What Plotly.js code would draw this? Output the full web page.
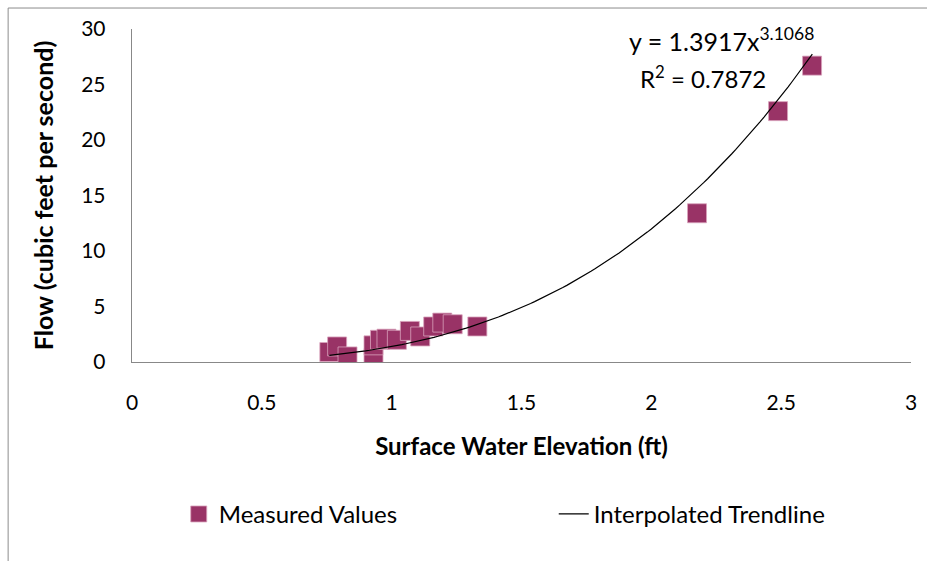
<!DOCTYPE html>
<html>
<head>
<meta charset="utf-8">
<script src="https://cdn.plot.ly/plotly-3.0.1.min.js"></script>
<style>
html,body{margin:0;padding:0;background:#fff;}
#chart{width:927px;height:561px;}
</style>
</head>
<body>
<div id="chart"></div>
<script>
var elevation = [0.76, 0.79, 0.83, 0.93, 0.93, 0.955, 0.98, 1.02, 1.07, 1.11, 1.16, 1.195, 1.235, 1.33, 2.176, 2.488, 2.619];
var flow      = [0.9,  1.4,  0.5,  0.35, 1.5,  2.0,   2.1,  2.0,  2.8,  2.3,  3.2,  3.55,  3.4,   3.2,  13.4,  22.6,  26.7];

// Trendline as displayed on the chart: y = 1.3917 x^3.1068
var trendCoef = 1.3917;
var trendExp = 3.1068;
var trendRange = [0.76, 2.62];
var rSquared = 0.7872;

var xTicks = [0, 0.5, 1, 1.5, 2, 2.5, 3];
var xTickText = ['0', '0.5', '1', '1.5', '2', '2.5', '3'];
var yTicks = [0, 5, 10, 15, 20, 25, 30];

var trendX = [], trendY = [];
var nSteps = 120;
for (var i = 0; i <= nSteps; i++) {
  var xv = trendRange[0] + (trendRange[1] - trendRange[0]) * i / nSteps;
  trendX.push(xv);
  trendY.push(trendCoef * Math.pow(xv, trendExp));
}

var FONT = 'Lato, "Open Sans", sans-serif';

var data = [
  {
    x: elevation, y: flow, type: 'scatter', mode: 'markers',
    name: 'Measured Values',
    marker: {symbol: 'square', size: 19, color: '#993366',
             line: {color: '#d9a3bd', width: 0.8}}
  },
  {
    x: trendX, y: trendY, type: 'scatter', mode: 'lines',
    name: 'Interpolated Trendline',
    line: {color: '#000000', width: 1.2}
  }
];

var layout = {
  width: 927, height: 561,
  margin: {l: 132, r: 16, t: 29, b: 199, autoexpand: false},
  paper_bgcolor: '#ffffff', plot_bgcolor: '#ffffff',
  font: {family: FONT, size: 21, color: '#000'},
  showlegend: true,
  xaxis: {
    range: [0, 3], tickvals: xTicks, ticktext: xTickText,
    showgrid: false, zeroline: false,
    showline: true, linecolor: '#888888', linewidth: 1.3,
    ticks: '', ticklabelstandoff: 21,
    tickfont: {family: FONT, size: 21, color: '#000'},
    title: {text: '<b>Surface Water Elevation (ft)</b>', font: {family: FONT, size: 24, color: '#000'}, standoff: 25}
  },
  yaxis: {
    range: [0, 30], tickvals: yTicks,
    showgrid: false, zeroline: false,
    showline: true, linecolor: '#888888', linewidth: 1.3,
    ticks: '', ticklabelstandoff: 21,
    tickfont: {family: FONT, size: 21, color: '#000'},
    title: {text: '<b>Flow (cubic feet per second)</b>', font: {family: FONT, size: 25, color: '#000'}, standoff: 20}
  },
  legend: {
    orientation: 'h', x: 0.06, y: -0.39, xanchor: 'left', yanchor: 'top',
    font: {family: FONT, size: 24, color: '#000'},
    entrywidth: 330, entrywidthmode: 'pixels',
    bgcolor: 'rgba(0,0,0,0)'
  },
  annotations: [
    {xref: 'paper', yref: 'paper', x: 0.757, y: 0.968, xanchor: 'center', yanchor: 'middle',
     text: 'y = ' + trendCoef + 'x<sup>' + trendExp + '</sup>', showarrow: false,
     font: {family: FONT, size: 25, color: '#000'}},
    {xref: 'paper', yref: 'paper', x: 0.733, y: 0.856, xanchor: 'center', yanchor: 'middle',
     text: 'R<sup>2</sup> = ' + rSquared, showarrow: false,
     font: {family: FONT, size: 24, color: '#000'}}
  ],
  shapes: [
    {type: 'rect', xref: 'paper', yref: 'paper', x0: -0.159, x1: 1.2, y0: -1.0, y1: 1.063,
     line: {color: '#8c8c8c', width: 1}, fillcolor: 'rgba(0,0,0,0)', layer: 'below'}
  ]
};

Plotly.newPlot('chart', data, layout, {displayModeBar: false, staticPlot: true});
</script>
</body>
</html>
